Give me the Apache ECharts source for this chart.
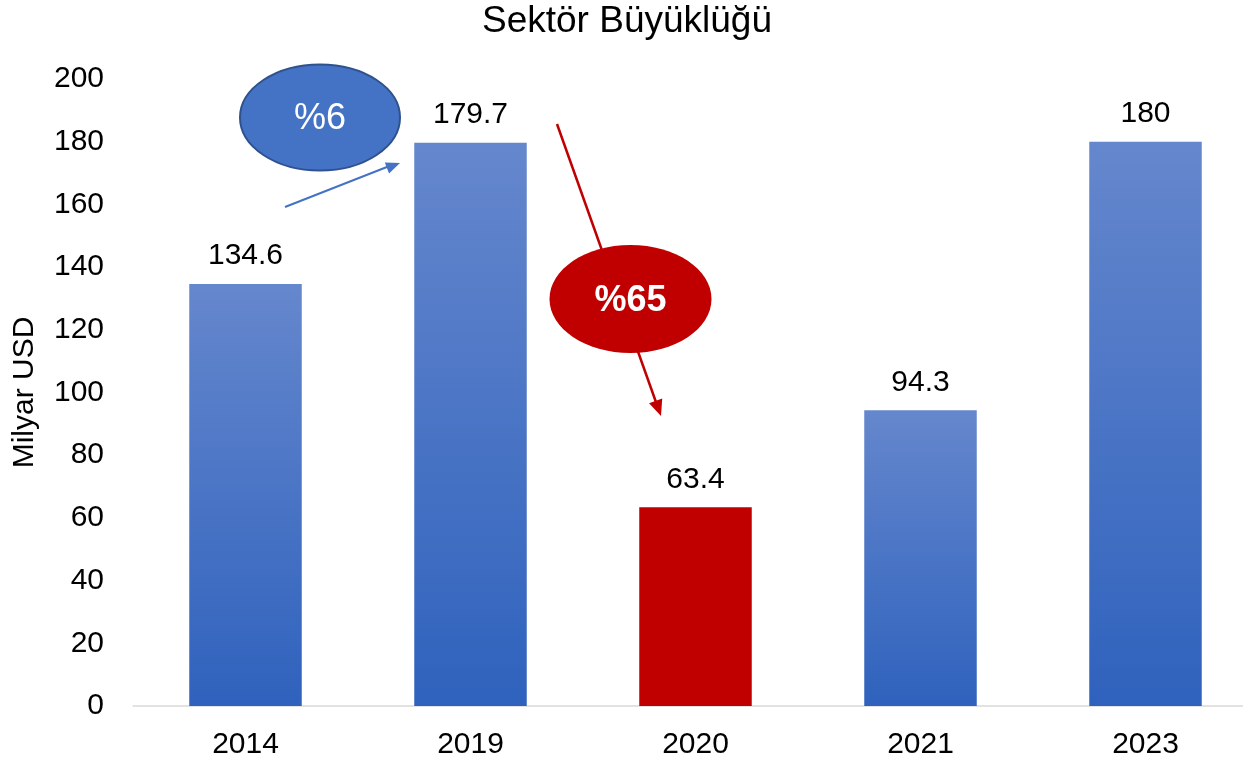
<!DOCTYPE html>
<html>
<head>
<meta charset="utf-8">
<script src="https://cdn.jsdelivr.net/npm/echarts@6/dist/echarts.min.js"></script>
<style>
  html,body{margin:0;padding:0;background:#fff;}
  #chart{width:1243px;height:762px;}
</style>
</head>
<body>
<div id="chart"></div>
<script>
var years = ['2014', '2019', '2020', '2021', '2023']
var values = [134.6, 179.7, 63.4, 94.3, 180]
var yTicks = [0, 20, 40, 60, 80, 100, 120, 140, 160, 180, 200]

var font = '"Liberation Sans", Arial, sans-serif'

var blueGrad = new echarts.graphic.LinearGradient(0, 0, 0, 1, [
  {offset: 0, color: '#6587cd'},
  {offset: 1, color: '#2f62bd'}
])

// arrow head triangle pointing from (x1,y1) to (x2,y2)
function arrowHead(x1, y1, x2, y2, len, half, color) {
  var dx = x2 - x1, dy = y2 - y1
  var d = Math.sqrt(dx * dx + dy * dy)
  var ux = dx / d, uy = dy / d
  var bx = x2 - ux * len, by = y2 - uy * len
  return {
    type: 'polygon',
    shape: {points: [[x2, y2], [bx - uy * half, by + ux * half], [bx + uy * half, by - ux * half]]},
    style: {fill: color},
    z: 100
  }
}

var chart = echarts.init(document.getElementById('chart'))
var option = {
  backgroundColor: '#fff',
  animation: false,
  title: {
    text: 'Sektör Büyüklüğü',
    left: 482,
    top: 3,
    padding: 0,
    textStyle: {fontFamily: font, fontSize: 37, fontWeight: 'normal', color: '#000'}
  },
  grid: {left: 133, width: 1125, top: 79, bottom: 56, outerBoundsMode: 'none', containLabel: false},
  xAxis: {
    type: 'category',
    data: years,
    axisLine: {lineStyle: {color: '#d9d9d9', width: 1.5}},
    axisTick: {show: false},
    axisLabel: {fontFamily: font, fontSize: 30, color: '#000', margin: 24}
  },
  yAxis: {
    type: 'value',
    min: yTicks[0],
    max: yTicks[yTicks.length - 1],
    interval: 20,
    name: 'Milyar USD',
    nameLocation: 'middle',
    nameGap: 93,
    nameTextStyle: {fontFamily: font, fontSize: 30, color: '#000'},
    axisLine: {show: false},
    axisTick: {show: false},
    splitLine: {show: false},
    axisLabel: {fontFamily: font, fontSize: 30, color: '#000', margin: 29}
  },
  series: [{
    type: 'bar',
    barWidth: '50%',
    data: values.map(function (v, i) {
      return {value: v, itemStyle: {color: years[i] === '2020' ? '#c00000' : blueGrad}}
    }),
    label: {
      show: true,
      position: 'top',
      distance: 13,
      fontFamily: font,
      fontSize: 30,
      color: '#000'
    }
  }],
  graphic: [
    {type: 'line', shape: {x1: 285, y1: 207, x2: 392, y2: 165}, style: {stroke: '#4472c4', lineWidth: 2}, z: 100},
    arrowHead(285, 207, 400, 163, 14, 6, '#4472c4'),
    {type: 'ellipse', shape: {cx: 320, cy: 117.5, rx: 80, ry: 53}, style: {fill: '#4472c4', stroke: '#2f528f', lineWidth: 2}, z: 100},
    {type: 'text', x: 320, y: 119, style: {text: '%6', fontFamily: font, fontSize: 36, fill: '#fff', align: 'center', verticalAlign: 'middle'}, z: 101},
    {type: 'line', shape: {x1: 557, y1: 124, x2: 657, y2: 405}, style: {stroke: '#c00000', lineWidth: 2.5}, z: 99},
    arrowHead(557, 124, 661, 416, 16, 7, '#c00000'),
    {type: 'ellipse', shape: {cx: 630.5, cy: 299, rx: 81, ry: 54}, style: {fill: '#c00000'}, z: 100},
    {type: 'text', x: 630.5, y: 301, style: {text: '%65', fontFamily: font, fontSize: 36, fontWeight: 'bold', fill: '#fff', align: 'center', verticalAlign: 'middle'}, z: 101}
  ]
}
chart.setOption(option)
window.addEventListener('resize', function () { chart.resize() })
</script>
</body>
</html>
